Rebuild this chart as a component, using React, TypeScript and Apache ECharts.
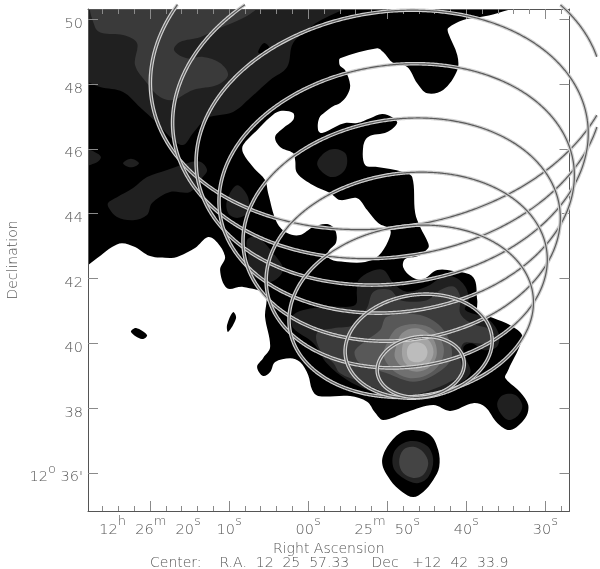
import React, { useEffect, useRef } from "react";
import * as echarts from "echarts";

type P = [number, number];

// All coordinates: [R.A. seconds past 12h25m, Dec arcmin past 12deg]
const blackMain: P[] = [[90,50.9],[32.5,50.7],[32.5,50.5],[36.08,50.19],[38.23,50.07],[40.38,49.98],[42.28,49.73],[42.28,49.58],[41.14,48.9],[41.14,48.43],[42.92,47.82],[44.94,47.72],[46.21,48.03],[47.47,48.53],[49.24,48.65],[50.51,48.99],[51.27,49.11],[55.95,48.8],[56.08,48.68],[55.95,48.56],[55.32,48.43],[54.69,47.97],[55.07,47.66],[55.95,47.42],[56.84,47.32],[57.85,47.14],[58.61,46.95],[58.74,46.58],[58.23,46.49],[56.59,46.68],[55.32,46.8],[53.8,46.8],[52.16,46.95],[50.64,47.08],[49.37,46.98],[48.74,46.8],[50,46.52],[52.41,46.37],[53.04,46.06],[52.79,45.5],[51.27,45.44],[47.98,45.29],[46.84,45.13],[46.46,44.02],[45.83,43.59],[44.81,43.09],[44.81,42.94],[46.08,42.69],[47.73,42.6],[47.98,42.35],[46.84,42.04],[45.45,41.98],[43.67,42.26],[41.65,42.23],[39.12,42.04],[38.61,41.33],[38.48,40.93],[36.59,40.78],[34.05,40.5],[32.92,40.19],[34.81,39.11],[35.07,38.93],[33.17,38.49],[32.16,38.09],[32.54,37.69],[34.43,37.32],[36.08,37.54],[37.6,38.03],[39.12,38.15],[42.03,37.91],[44.18,38.09],[47.47,37.88],[50.51,37.63],[51.52,37.85],[52.54,38.19],[54.69,38.37],[58.74,38.37],[59.5,38.56],[60,39.02],[61.02,39.42],[62.28,39.54],[64.18,39.42],[64.81,39.11],[65.7,38.99],[66.46,39.27],[65.7,39.54],[64.81,39.88],[65.45,40.81],[65.45,41.49],[68.23,41.74],[70.26,41.7],[71.14,42.26],[70.51,42.66],[71.52,43.12],[72.66,43.28],[74.31,42.94],[76.59,42.66],[77.47,42.63],[80,42.69],[81.9,42.97],[83.55,43.09],[84.81,42.97],[86.33,42.69],[87.85,42.41],[89.1,42.2],[90,42.2]];
const whiteHole: P[] = [[61.9,47.11],[63.55,47.17],[64.81,46.98],[66.46,46.58],[68.23,46.12],[68.23,45.87],[66.97,45.44],[65.45,45.04],[65.07,44.64],[63.93,43.71],[62.66,43.4],[61.02,43.34],[59.37,43.59],[57.6,43.68],[56.59,43.5],[56.46,43.12],[57.47,42.82],[57.22,42.6],[55.32,42.51],[52.79,42.51],[51.14,42.69],[49.88,43.16],[49.62,43.5],[51.14,43.71],[52.54,44.11],[53.8,44.48],[55.95,44.42],[57.22,44.64],[59.37,44.88],[61.4,45.26],[61.65,45.66],[61.9,45.87],[63.55,46.06],[64.18,46.37],[63.17,46.64],[61.9,46.89]];
const islandA: P[] = [[82.41,40.35],[81.77,40.47],[80.38,40.25],[81.02,40.13]];
const islandB: P[] = [[69.5,40.96],[69.12,40.78],[70.13,40.35],[70.26,40.56]];
const southBlob1: P[] = [[46.71,37.32],[44.56,37.17],[43.55,36.7],[43.42,36.18],[44.18,35.78],[45.45,35.41],[46.71,35.25],[48.1,35.41],[49.62,35.78],[50.64,36.3],[50,36.8],[48.36,37.23]];
const southBlob2: P[] = [[47.09,36.98],[44.94,36.83],[44.18,36.39],[44.81,35.87],[46.21,35.68],[47.98,35.84],[49.24,36.18],[48.99,36.7]];
const southBlob3: P[] = [[46.71,36.8],[45.45,36.64],[44.81,36.3],[45.45,35.93],[46.71,35.84],[47.98,35.99],[48.49,36.33],[47.98,36.7]];
const northWest2: P[] = [[90,50.9],[52.2,50.9],[52.2,50.53],[55.57,50.29],[57.85,50.04],[59.37,49.82],[61.9,49.27],[62.66,48.53],[64.81,48.13],[67.34,47.57],[69.5,47.14],[72.79,46.95],[74.56,46.49],[75.83,46.12],[77.47,46.37],[79.12,46.8],[81.27,47.29],[83.42,47.76],[86.33,47.91],[87.85,48.06],[89.1,48.15],[90,48.15]];
const northWestDot: P[] = [[65.57,49.27],[64.81,49.08],[65.83,48.93],[66.33,48.99]];
const northWest3: P[] = [[87.22,50.47],[65.45,50.53],[66.46,50.32],[68.23,50.04],[71.14,49.73],[73.67,49.45],[76.21,49.3],[76.96,49.05],[75.32,48.8],[73.29,48.84],[71.14,48.65],[70.13,48.28],[71.52,47.97],[74.56,47.82],[77.09,47.51],[78.74,47.6],[80.38,48.03],[81.9,48.59],[81.65,49.27],[83.42,49.52],[86.08,49.58],[86.96,49.76]];
const spotEdge: P[] = [[88.5,46],[86.96,45.9],[86.21,45.75],[86.71,45.59],[88.5,45.5]];
const spotSmall: P[] = [[83.42,45.56],[82.41,45.7],[81.4,45.56],[82.41,45.43]];
const spotLong: P[] = [[85.32,44.33],[84.18,44.51],[82.15,44.79],[80.38,45.13],[77.85,45.35],[75.32,45.56],[73.67,45.6],[72.79,45.35],[73.42,45.1],[74.94,44.67],[77.47,44.67],[79.75,44.33],[80.38,43.96],[82.15,43.8],[84.18,43.9],[85.19,44.17]];
const spotMid: P[] = [[70.26,44.42],[68.99,44.88],[67.6,44.51],[67.73,44.02],[68.99,43.87],[70.13,44.02]];
const spotNorth: P[] = [[58.86,45.56],[57.85,45.9],[56.59,46],[55.32,45.87],[55.07,45.56],[55.57,45.29],[56.84,45.13],[58.1,45.26]];
const spotWest: P[] = [[67.73,43.19],[66.46,43.28],[64.43,42.78],[63.17,42.26],[64.81,41.89],[67.34,42.17],[67.6,42.72]];
const spotEast: P[] = [[36.08,38.15],[35.32,38.4],[33.8,38.4],[32.92,38.09],[33.42,37.78],[34.69,37.63],[35.7,37.85]];
const core2: P[] = [[53.63,41.95],[52.15,42.21],[50.47,42.26],[49.2,41.85],[47.51,41.59],[44.98,41.75],[43.29,42],[41.61,42.05],[40.13,41.75],[39.71,41.33],[40.13,41.03],[37.39,40.77],[35.91,40.31],[36.12,39.89],[37.81,39.79],[39.29,40],[40.34,39.89],[40.13,39.59],[39.5,39.07],[41.61,38.66],[44.98,38.45],[48.36,38.25],[50.04,38.3],[52.58,38.56],[55.11,38.87],[57.64,39.38],[59.33,40],[61.86,40.46],[62.07,40.82],[60.59,41.03],[57.22,41.13],[54.05,41.18],[53.84,41.64]];
const core3: P[] = [[58.9,40.31],[56.8,40.46],[54.26,40.56],[52.58,41.08],[51.73,41.59],[49.62,41.64],[48.36,41.33],[44.98,41.33],[43.29,41.64],[41.61,41.75],[40.76,41.44],[40.76,40.92],[39.29,40.61],[36.97,40.41],[36.97,40],[38.65,40],[40.34,40],[40.76,39.59],[40.55,39.07],[42.45,38.76],[45.83,38.45],[48.78,38.3],[50.47,38.5],[53.42,38.81],[55.95,39.07],[56.8,39.38],[58.48,39.79]];
const core4: P[] = [[54.05,39.79],[52.58,40.1],[50.89,40.41],[50.04,40.82],[45.83,40.87],[42.87,40.41],[41.82,39.59],[43.72,39.07],[46.67,38.81],[50.04,39.07],[53.42,39.38],[54.05,39.59]];
const core5: P[] = [[50.04,40],[48.78,40.46],[46.25,40.59],[44.14,40.41],[42.87,39.89],[43.29,39.38],[44.98,39.02],[47.09,38.92],[48.78,39.07],[50.04,39.38],[50.47,39.69]];
const core6: P[] = [[48.99,39.79],[48.14,40.31],[46.25,40.46],[44.35,40.2],[43.72,39.69],[44.56,39.28],[46.25,39.12],[48.14,39.28],[48.99,39.53]];
const core7: P[] = [[48.14,39.74],[47.72,40.1],[46.25,40.25],[44.77,40.1],[44.14,39.74],[44.77,39.38],[46.25,39.22],[47.72,39.38]];
const core8: P[] = [[47.51,39.72],[47.18,39.95],[46.25,40.03],[45.32,39.95],[44.9,39.72],[45.32,39.48],[46.25,39.41],[47.18,39.48]];

// [polygon, fill]
const contourLayers: [P[], string][] = [
  [blackMain, "#000000"], [whiteHole, "#ffffff"], [islandA, "#000000"], [islandB, "#000000"],
  [southBlob1, "#000000"], [southBlob2, "#222222"], [southBlob3, "#444444"],
  [northWest2, "#202020"], [northWestDot, "#000000"], [northWest3, "#3a3a3a"],
  [spotEdge, "#202020"], [spotSmall, "#202020"], [spotLong, "#202020"], [spotMid, "#202020"],
  [spotNorth, "#202020"], [spotWest, "#202020"], [spotEast, "#202020"],
  [core2, "#202020"], [core3, "#3c3c3c"], [core4, "#585858"], [core5, "#707070"],
  [core6, "#8c8c8c"], [core7, "#a4a4a4"], [core8, "#bcbcbc"],
];

// Aperture ellipses: R.A. centre (s), Dec centre ('), semi-axes (')
const apertureRa = [50.51, 49.94, 49.37, 48.8, 48.17, 47.53, 46.96, 46.02, 45.76];
const apertureDec = [48.56, 47.29, 46.04, 44.78, 43.51, 42.26, 40.99, 39.91, 39.27];
const apertureMajor = [7.22, 6.67, 6.08, 5.51, 4.92, 4.36, 3.79, 2.28, 1.35];
const apertureMinor = [5.0, 4.63, 4.2, 3.81, 3.41, 2.99, 2.63, 1.59, 0.93];
const apertureTiltDeg = 8;
const arcminPerRaSecond = 0.2439;

const raMajorTicks = [80, 70, 60, 50, 40, 30];
const raMinorTicks = [86, 84, 82, 78, 76, 74, 72, 68, 66, 64, 62, 58, 56, 54, 52, 48, 46, 44, 42, 38, 36, 34, 32, 28];
const decTicks = [50, 48, 46, 44, 42, 40, 38, 36];
const raLabels: Record<number, string> = {
  80: "{n|12}{s|h}{n|  26}{s|m}{n|  20}{s|s}",
  70: "{n|10}{s|s}",
  60: "{n|00}{s|s}",
  50: "{n|25}{s|m}{n|  50}{s|s}",
  40: "{n|40}{s|s}",
  30: "{n|30}{s|s}",
};
const decLabels: Record<number, string> = { 36: "{n|12}{s|o}{n| 36'}" };
const centerText = "Center:    R.A.  12  25  57.33     Dec   +12  42  33.9";

const RA_MIN = 26.94, RA_MAX = 87.85, DEC_MIN = 34.82, DEC_MAX = 50.32;
const INK = "#555555";
const FONT = "'DejaVu Sans', sans-serif";
const rich = {
  n: { fontFamily: FONT, fontWeight: 200, fontSize: 14.5, color: INK, lineHeight: 22, verticalAlign: "bottom" },
  s: { fontFamily: FONT, fontWeight: 200, fontSize: 13, color: INK, lineHeight: 22, verticalAlign: "top", padding: [0, 0, 8, 0] },
};

export default function App() {
  const ref = useRef<HTMLDivElement>(null);
  useEffect(() => {
    const chart = echarts.init(ref.current!, null, { renderer: "svg" });
    const xBase = { type: "value", min: RA_MIN, max: RA_MAX, inverse: true, z: 3, splitLine: { show: false },
      axisLine: { show: true, onZero: false, lineStyle: { color: INK, width: 1 } } };
    const yBase = { type: "value", min: DEC_MIN, max: DEC_MAX, z: 3, splitLine: { show: false },
      axisLine: { show: true, onZero: false, lineStyle: { color: INK, width: 1 } } };
    const tick = (vals: number[], length: number) => ({ show: true, inside: true, length, customValues: vals, lineStyle: { color: "#8a8a8a", width: 1 } });
    chart.setOption({
      animation: false,
      grid: { left: 88, top: 9, width: 481.5, height: 502, containLabel: false, outerBoundsMode: "none" },
      xAxis: [
        { ...xBase, position: "bottom", axisTick: tick(raMajorTicks, 10),
          axisLabel: { show: true, customValues: raMajorTicks, margin: 3, formatter: (v: number) => raLabels[v] ?? "", rich },
          name: "Right Ascension", nameLocation: "middle", nameGap: 25,
          nameTextStyle: { fontFamily: FONT, fontWeight: 200, fontSize: 14, color: INK, verticalAlign: "top", lineHeight: 12 } },
        { ...xBase, position: "top", axisTick: tick(raMajorTicks, 10), axisLabel: { show: false } },
        { ...xBase, position: "bottom", axisLine: { show: false }, axisTick: tick(raMinorTicks, 5), axisLabel: { show: false } },
        { ...xBase, position: "top", axisLine: { show: false }, axisTick: tick(raMinorTicks, 5), axisLabel: { show: false } },
      ],
      yAxis: [
        { ...yBase, position: "left", axisTick: tick(decTicks, 10),
          axisLabel: { show: true, customValues: decTicks, margin: 5, formatter: (v: number) => decLabels[v] ?? `{n|${v}}`, rich },
          name: "Declination", nameLocation: "middle", nameRotate: 90, nameGap: 67,
          nameTextStyle: { fontFamily: FONT, fontWeight: 200, fontSize: 14, color: INK } },
        { ...yBase, position: "right", axisTick: tick(decTicks, 10), axisLabel: { show: false } },
      ],
      series: [
        {
          type: "custom", z: 1, clip: true, silent: true, coordinateSystem: "cartesian2d",
          data: contourLayers.map((_, i) => [60, 42, i]),
          renderItem: (_: any, api: any) => {
            const [poly, fill] = contourLayers[api.value(2)];
            return { type: "polygon", shape: { points: poly.map((p) => api.coord(p)), smooth: 0.35 }, style: { fill, stroke: "none" } };
          },
        },
        {
          type: "custom", z: 5, clip: false, silent: true, coordinateSystem: "cartesian2d",
          data: apertureRa.map((ra, i) => [ra, apertureDec[i], i]),
          renderItem: (_: any, api: any) => {
            const i = api.value(2);
            const t = (apertureTiltDeg * Math.PI) / 180;
            const segments: number[][][] = [[]];
            for (let d = 0; d <= 720; d++) {
              const q = (d * Math.PI) / 360;
              const u = apertureMajor[i] * Math.cos(q);
              const v = apertureMinor[i] * Math.sin(q);
              const east = u * Math.cos(t) - v * Math.sin(t);
              const north = u * Math.sin(t) + v * Math.cos(t);
              const pt = api.coord([apertureRa[i] - east / arcminPerRaSecond, apertureDec[i] + north]);
              if (pt[0] <= 597 && pt[1] >= 4) segments[segments.length - 1].push(pt);
              else if (segments[segments.length - 1].length) segments.push([]);
            }
            const children: any[] = [];
            segments.filter((s) => s.length > 1).forEach((s) => {
              children.push({ type: "polyline", shape: { points: s }, style: { fill: "none", stroke: "#d0d0d0", lineWidth: 3.6 } });
            });
            segments.filter((s) => s.length > 1).forEach((s) => {
              children.push({ type: "polyline", shape: { points: s }, style: { fill: "none", stroke: "#5a5a5a", lineWidth: 1.2 } });
            });
            return { type: "group", children };
          },
        },
      ],
      graphic: [
        { type: "text", x: 150, y: 554.5, silent: true,
          style: { text: centerText, font: `200 14px ${FONT}`, fill: INK } },
      ],
    });
    return () => chart.dispose();
  }, []);
  return <div ref={ref} style={{ position: "fixed", left: 0, top: 0, width: 600, height: 569 }} />;
}
